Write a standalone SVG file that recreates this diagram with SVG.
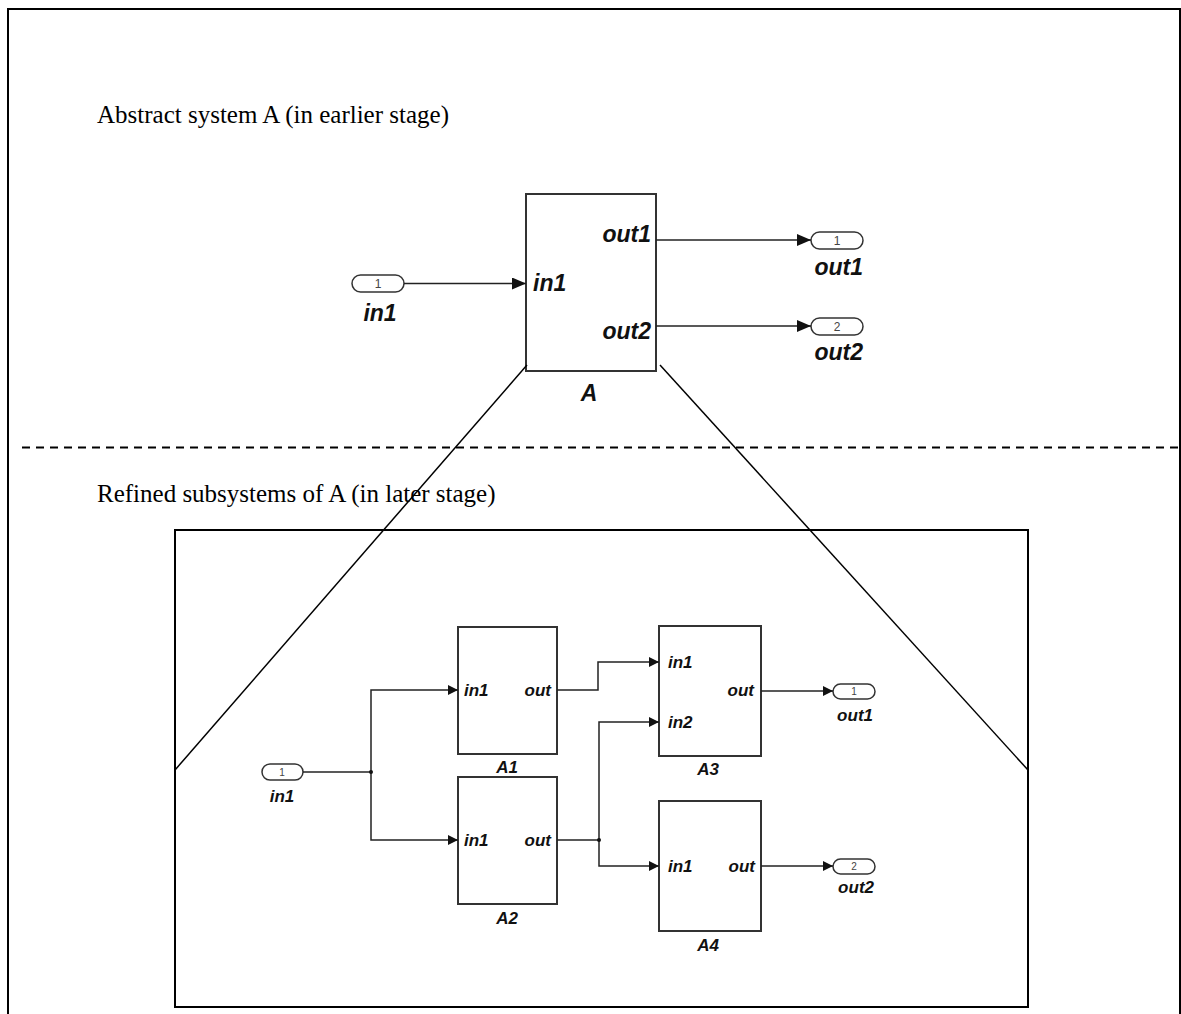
<svg xmlns="http://www.w3.org/2000/svg" width="1181" height="1014" viewBox="0 0 1181 1014">
<style>
.blk{fill:#fff;stroke:#333;stroke-width:2}
.port{fill:#fff;stroke:#333;stroke-width:1.5}
.ln{fill:none;stroke:#222;stroke-width:1.5}
.thin{fill:none;stroke:#000;stroke-width:1.5}
.t{font-family:"Liberation Serif",serif;font-size:25px;fill:#000}
.lb{font-family:"Liberation Sans",Arial,sans-serif;font-weight:bold;font-style:italic;fill:#111}
.big{font-size:23px}
.sm{font-size:17px}
.num{font-family:"Liberation Sans",Arial,sans-serif;fill:#444;text-anchor:middle}
</style>
<defs>
<marker id="ar" markerWidth="10" markerHeight="10" refX="10" refY="5" orient="auto" markerUnits="userSpaceOnUse">
<path d="M0,0 L10,5 L0,10 z" fill="#111"/>
</marker>
<marker id="ar2" markerWidth="14" markerHeight="12" refX="14" refY="6" orient="auto" markerUnits="userSpaceOnUse">
<path d="M0,0 L14,6 L0,12 z" fill="#111"/>
</marker>
</defs>
<rect width="1181" height="1014" fill="#fff"/>
<path d="M8,1014 L8,9 L1180,9 L1180,1014" fill="none" stroke="#000" stroke-width="2"/>
<line x1="22" y1="447.5" x2="1180" y2="447.5" stroke="#000" stroke-width="2" stroke-dasharray="8,6"/>
<text class="t" x="97" y="123">Abstract system A (in earlier stage)</text>
<text class="t" x="97" y="502">Refined subsystems of A (in later stage)</text>
<rect x="175" y="530" width="853" height="477" fill="none" stroke="#000" stroke-width="2"/>

<g id="A">
<rect class="blk" x="526" y="194" width="130" height="177"/>
<text class="lb big" x="533" y="291">in1</text>
<text class="lb big" x="651" y="242" text-anchor="end">out1</text>
<text class="lb big" x="651" y="339" text-anchor="end">out2</text>
<text class="lb big" x="589" y="401" text-anchor="middle">A</text>
</g>
<g id="in1_top">
<rect class="port" x="352" y="275" width="52" height="17" rx="8.5"/>
<text class="num" x="378" y="288" font-size="12">1</text>
<text class="lb big" x="380" y="321" text-anchor="middle">in1</text>
</g>
<g id="out1_top">
<rect class="port" x="811" y="232" width="52" height="17" rx="8.5"/>
<text class="num" x="837" y="245" font-size="12">1</text>
<text class="lb big" x="863" y="275" text-anchor="end">out1</text>
</g>
<g id="out2_top">
<rect class="port" x="811" y="318" width="52" height="17" rx="8.5"/>
<text class="num" x="837" y="331" font-size="12">2</text>
<text class="lb big" x="863" y="360" text-anchor="end">out2</text>
</g>

<g id="A1">
<rect class="blk" x="458" y="627" width="99" height="127"/>
<text class="lb sm" x="464" y="696">in1</text>
<text class="lb sm" x="551" y="696" text-anchor="end">out</text>
<text class="lb sm" x="507" y="773" text-anchor="middle">A1</text>
</g>
<g id="A2">
<rect class="blk" x="458" y="777" width="99" height="127"/>
<text class="lb sm" x="464" y="846">in1</text>
<text class="lb sm" x="551" y="846" text-anchor="end">out</text>
<text class="lb sm" x="507" y="924" text-anchor="middle">A2</text>
</g>
<g id="A3">
<rect class="blk" x="659" y="626" width="102" height="130"/>
<text class="lb sm" x="668" y="668">in1</text>
<text class="lb sm" x="668" y="728">in2</text>
<text class="lb sm" x="754" y="696" text-anchor="end">out</text>
<text class="lb sm" x="708" y="775" text-anchor="middle">A3</text>
</g>
<g id="A4">
<rect class="blk" x="659" y="801" width="102" height="130"/>
<text class="lb sm" x="668" y="872">in1</text>
<text class="lb sm" x="755" y="872" text-anchor="end">out</text>
<text class="lb sm" x="708" y="951" text-anchor="middle">A4</text>
</g>
<g id="in1_bot">
<rect class="port" x="262" y="764" width="41" height="16" rx="8"/>
<text class="num" x="282" y="776" font-size="10">1</text>
<text class="lb sm" x="282" y="802" text-anchor="middle">in1</text>
</g>
<g id="out1_bot">
<rect class="port" x="833" y="684" width="42" height="15" rx="7.5"/>
<text class="num" x="854" y="695" font-size="10">1</text>
<text class="lb sm" x="873" y="721" text-anchor="end">out1</text>
</g>
<g id="out2_bot">
<rect class="port" x="833" y="859" width="42" height="15" rx="7.5"/>
<text class="num" x="854" y="870" font-size="10">2</text>
<text class="lb sm" x="874" y="893" text-anchor="end">out2</text>
</g>

<g id="connectors">
<line class="ln" x1="404" y1="283.5" x2="526" y2="283.5" marker-end="url(#ar2)"/>
<line class="ln" x1="656" y1="240" x2="811" y2="240" marker-end="url(#ar2)"/>
<line class="ln" x1="656" y1="326" x2="811" y2="326" marker-end="url(#ar2)"/>
<line class="thin" x1="527" y1="365" x2="175" y2="770"/>
<line class="thin" x1="660" y1="365" x2="1028" y2="770"/>
<line class="ln" x1="303" y1="772" x2="371" y2="772"/>
<polyline class="ln" points="371,772 371,690 458,690" marker-end="url(#ar)"/>
<polyline class="ln" points="371,772 371,840 458,840" marker-end="url(#ar)"/>
<circle cx="371" cy="772" r="2" fill="#111"/>
<polyline class="ln" points="557,690 598,690 598,662 659,662" marker-end="url(#ar)"/>
<line class="ln" x1="557" y1="840" x2="599" y2="840"/>
<polyline class="ln" points="599,840 599,722 659,722" marker-end="url(#ar)"/>
<polyline class="ln" points="599,840 599,866 659,866" marker-end="url(#ar)"/>
<circle cx="599" cy="840" r="2" fill="#111"/>
<line class="ln" x1="761" y1="691" x2="833" y2="691" marker-end="url(#ar)"/>
<line class="ln" x1="761" y1="866" x2="833" y2="866" marker-end="url(#ar)"/>
</g>
</svg>
